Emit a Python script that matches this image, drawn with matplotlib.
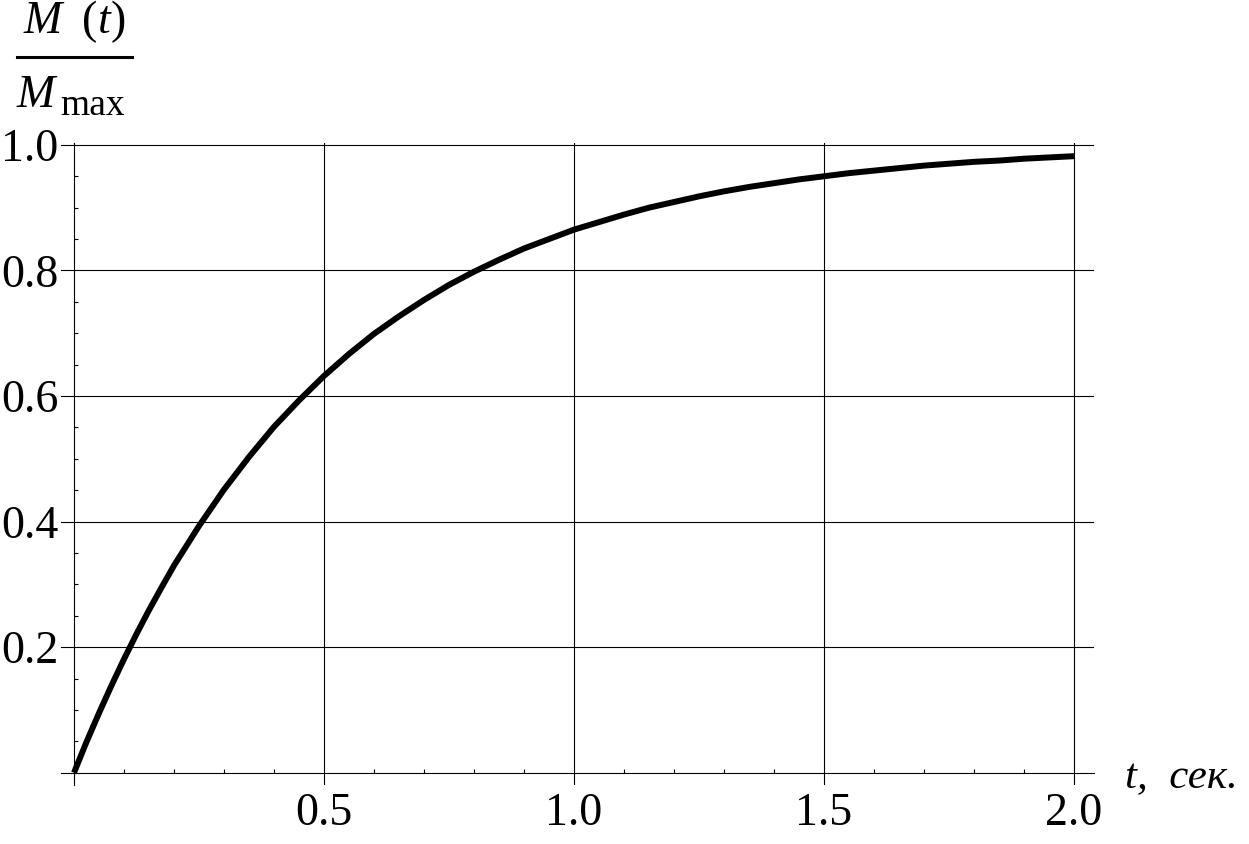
import matplotlib
matplotlib.use("Agg")
import matplotlib.pyplot as plt
from matplotlib.lines import Line2D
from matplotlib.ticker import MultipleLocator

# values
t_sec = [0.0, 0.025, 0.05, 0.075, 0.1, 0.125, 0.15, 0.175, 0.2, 0.25, 0.3, 0.35, 0.4,
         0.45, 0.5, 0.55, 0.6, 0.65, 0.7, 0.75, 0.8, 0.85, 0.9, 0.95, 1.0,
         1.05, 1.1, 1.15, 1.2, 1.25, 1.3, 1.35, 1.4, 1.45, 1.5, 1.55, 1.6,
         1.65, 1.7, 1.75, 1.8, 1.85, 1.9, 1.95, 2.0]
m_ratio = [0.0, 0.049, 0.095, 0.139, 0.181, 0.221, 0.259, 0.295, 0.330, 0.393,
           0.451, 0.503, 0.551, 0.593, 0.632, 0.667, 0.699, 0.727, 0.753, 0.777,
           0.798, 0.817, 0.835, 0.850, 0.865, 0.877, 0.889, 0.900, 0.909, 0.918,
           0.926, 0.933, 0.939, 0.945, 0.950, 0.955, 0.959, 0.963, 0.967, 0.970,
           0.973, 0.975, 0.978, 0.980, 0.982]

x_ticks = [0.5, 1.0, 1.5, 2.0]
x_tick_labels = ["0.5", "1.0", "1.5", "2.0"]
y_ticks = [0.2, 0.4, 0.6, 0.8, 1.0]
y_tick_labels = ["0.2", "0.4", "0.6", "0.8", "1.0"]

plt.rcParams["font.family"] = ["Liberation Serif", "DejaVu Serif"]
plt.rcParams["mathtext.fontset"] = "custom"
plt.rcParams["mathtext.rm"] = "Liberation Serif"
plt.rcParams["mathtext.it"] = "Liberation Serif:italic"

W, H = 1249, 844
fig = plt.figure(figsize=(W / 100, H / 100), dpi=100)

# axes box in pixels: left 61, right 1094, top 143, bottom 785
ax = fig.add_axes([61 / W, 1 - 785 / H, (1094 - 61) / W, (785 - 143) / H])
ax.set_xlim(-13 / 500, 2 + 20 / 500)
ax.set_ylim(-12.3 / 628.7, 1.003)

ax.plot(t_sec, m_ratio, color="black", lw=4.3, solid_capstyle="butt",
        solid_joinstyle="round", zorder=5)

ax.spines["top"].set_visible(False)
ax.spines["right"].set_visible(False)
ax.spines["left"].set_position(("data", 0))
ax.spines["bottom"].set_position(("data", 0))
for s in ["left", "bottom"]:
    ax.spines[s].set_linewidth(0.8)

ax.set_xticks(x_ticks)
ax.set_xticklabels(x_tick_labels)
ax.set_yticks(y_ticks)
ax.set_yticklabels(y_tick_labels)
ax.xaxis.set_minor_locator(MultipleLocator(0.1))
ax.yaxis.set_minor_locator(MultipleLocator(0.05))
ax.tick_params(which="major", length=0, labelsize=33)
ax.tick_params(axis="x", which="major", pad=14)
ax.tick_params(axis="y", which="major", pad=11)
ax.tick_params(which="minor", direction="in", length=3, width=0.8)
ax.grid(True, which="major", color="black", lw=0.8)

# axis titles
fig.text(74 / W, 1 - 33 / H, r"$M\;\ (t)$", fontsize=33, ha="center", va="baseline")
fig.add_artist(Line2D([17 / W, 132 / W], [1 - 57 / H, 1 - 57 / H], color="black", lw=2.2))
fig.text(17 / W, 1 - 107 / H, "M", fontsize=33, style="italic", ha="left", va="baseline")
fig.text(60 / W, 1 - 115 / H, "max", fontsize=27, ha="left", va="baseline")
fig.text(1125 / W, 1 - 788 / H, "t,  сек.", fontsize=31, style="italic",
         ha="left", va="baseline")

fig.savefig("out.png", dpi=100)
